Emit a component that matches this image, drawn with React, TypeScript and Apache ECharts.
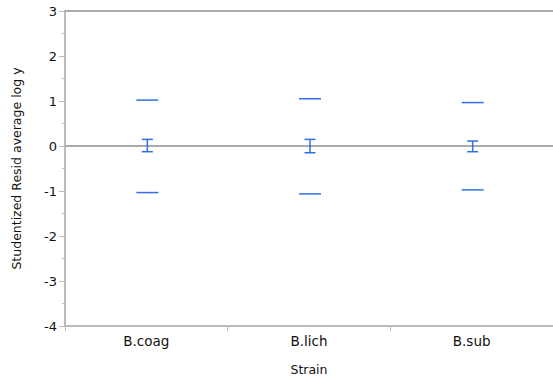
import React, { useEffect, useRef } from "react";
import * as echarts from "echarts";

const categories = ["B.coag", "B.lich", "B.sub"];
const upperLimit = [1.02, 1.05, 0.965];
const lowerLimit = [-1.035, -1.065, -0.975];
const errHigh = [0.147, 0.147, 0.11];
const errLow = [-0.127, -0.15, -0.127];
const yTicks = [-4, -3, -2, -1, 0, 1, 2, 3];

const BLUE = "#2f6fe8";
const FONT = "DejaVu Sans";

export default function App() {
  const ref = useRef<HTMLDivElement>(null);
  useEffect(() => {
    if (!ref.current) return;
    const chart = echarts.init(ref.current, undefined, { renderer: "svg" });
    const data = categories.map((c, i) => [i, upperLimit[i], lowerLimit[i], errHigh[i], errLow[i]]);
    chart.setOption({
      animation: false,
      grid: { left: 65, right: 0, top: 11, bottom: 55 },
      xAxis: [
        {
          type: "category",
          data: categories,
          boundaryGap: true,
          axisLine: { onZero: false, lineStyle: { color: "#bbbbbb", width: 2 } },
          axisTick: { show: true, length: 5, lineStyle: { color: "#bbbbbb" } },
          axisLabel: { color: "#111", fontFamily: FONT, fontSize: 13.5, margin: 8 },
          name: "Strain",
          nameLocation: "middle",
          nameGap: 37,
          nameTextStyle: { color: "#111", fontFamily: FONT, fontSize: 12.5 },
        },
        {
          type: "category",
          position: "top",
          data: categories,
          axisLine: { onZero: false, lineStyle: { color: "#aaaaaa", width: 2 } },
          axisTick: { show: false },
          axisLabel: { show: false },
        },
      ],
      yAxis: {
        type: "value",
        min: yTicks[0],
        max: yTicks[yTicks.length - 1],
        interval: 1,
        axisLine: { show: true, onZero: false, lineStyle: { color: "#bbbbbb", width: 2 } },
        axisTick: { show: true, length: 6, lineStyle: { color: "#bbbbbb" } },
        minorTick: { show: true, splitNumber: 2, length: 3, lineStyle: { color: "#bbbbbb" } },
        splitLine: { show: false },
        axisLabel: { color: "#111", fontFamily: FONT, fontSize: 13, margin: 8 },
        name: "Studentized Resid average log y",
        nameLocation: "middle",
        nameRotate: 90,
        nameGap: 42,
        nameTextStyle: { color: "#111", fontFamily: FONT, fontSize: 12.5 },
      },
      series: [
        {
          type: "custom",
          data,
          renderItem: (params: any, api: any) => {
            const idx = api.value(0);
            const up = api.coord([idx, api.value(1)]);
            const lo = api.coord([idx, api.value(2)]);
            const eh = api.coord([idx, api.value(3)]);
            const el = api.coord([idx, api.value(4)]);
            const x = up[0] + 1;
            const hw = 11;
            const cw = 5.5;
            const style = { stroke: BLUE, lineWidth: 1.5, fill: "none" };
            return {
              type: "group",
              children: [
                { type: "line", shape: { x1: x - hw, y1: up[1], x2: x + hw, y2: up[1] }, style },
                { type: "line", shape: { x1: x - hw, y1: lo[1], x2: x + hw, y2: lo[1] }, style },
                { type: "line", shape: { x1: x, y1: eh[1], x2: x, y2: el[1] }, style },
                { type: "line", shape: { x1: x - cw, y1: eh[1], x2: x + cw, y2: eh[1] }, style },
                { type: "line", shape: { x1: x - cw, y1: el[1], x2: x + cw, y2: el[1] }, style },
              ],
            };
          },
          markLine: {
            silent: true,
            symbol: "none",
            label: { show: false },
            lineStyle: { color: "#aaaaaa", width: 2, type: "solid" },
            data: [{ yAxis: 0 }],
            z: 1,
          },
          z: 3,
        },
      ],
    });
    return () => chart.dispose();
  }, []);
  return <div ref={ref} style={{ width: 553, height: 381, position: "absolute", left: 0, top: 0 }} />;
}
